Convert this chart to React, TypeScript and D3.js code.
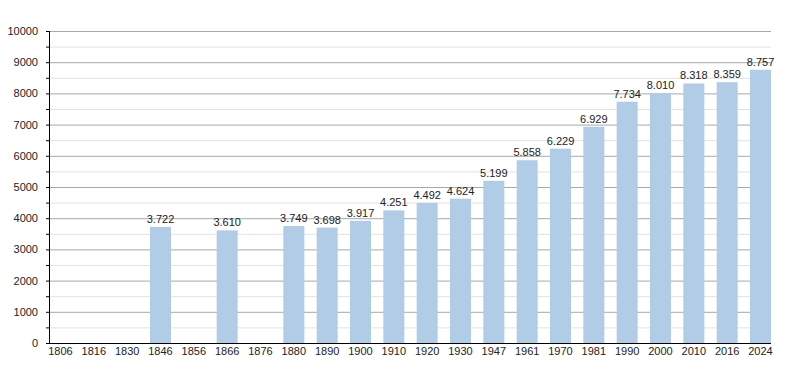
import React from "react";
import * as d3 from "d3";

const width = 800;
const height = 373;
const margin = { top: 31, right: 29, bottom: 30, left: 50 };

const years = [
  "1806", "1816", "1830", "1846", "1856", "1866", "1876", "1880", "1890", "1900", "1910",
  "1920", "1930", "1947", "1961", "1970", "1981", "1990", "2000", "2010", "2016", "2024",
];
const population: (number | null)[] = [
  null, null, null, 3722, null, 3610, null, 3749, 3698, 3917, 4251,
  4492, 4624, 5199, 5858, 6229, 6929, 7734, 8010, 8318, 8359, 8757,
];
const majorTicks = [0, 1000, 2000, 3000, 4000, 5000, 6000, 7000, 8000, 9000, 10000];
const minorTicks = [500, 1500, 2500, 3500, 4500, 5500, 6500, 7500, 8500, 9500];

const font = "'Liberation Sans', Arial, sans-serif";
const fmt = (v: number) => d3.format(",")(v).replace(/,/g, ".");

const App = () => {
  const x0 = margin.left;
  const x1 = width - margin.right;
  const yBottom = height - margin.bottom - 0;

  const scaleX = d3.scaleBand<string>().domain(years).range([x0, x1]).paddingInner(0.37).paddingOuter(0).align(0);
  const scaleY = d3.scaleLinear().domain([0, 10000]).range([343, margin.top]);

  return (
    <svg width={width} height={height} style={{ position: "absolute", left: 0, top: 0, background: "#fff" }}>
      {minorTicks.map((t) => (
        <g key={"m" + t}>
          <line x1={x0} x2={x1} y1={scaleY(t) + 0.5} y2={scaleY(t) + 0.5} stroke="#e2e2e2" />
          <line x1={x0 - 4} x2={x0} y1={scaleY(t) + 0.5} y2={scaleY(t) + 0.5} stroke="#000" />
        </g>
      ))}
      {majorTicks.map((t) => (
        <g key={"M" + t}>
          <line x1={x0} x2={x1} y1={scaleY(t) + 0.5} y2={scaleY(t) + 0.5} stroke="#a8a8a8" />
          <line x1={x0 - 4} x2={x0} y1={scaleY(t) + 0.5} y2={scaleY(t) + 0.5} stroke="#000" />
          <text
            x={x0 - 12}
            y={scaleY(t) + 4}
            textAnchor="end"
            fontFamily={font}
            fontSize={11}
            fill="#222"
          >
            {t}
          </text>
        </g>
      ))}
      {years.map((yr, i) => {
        const v = population[i];
        const bx = scaleX(yr) as number;
        const bw = scaleX.bandwidth();
        return (
          <g key={yr}>
            {v !== null && (
              <>
                <rect x={bx} y={scaleY(v)} width={bw} height={scaleY(0) - scaleY(v)} fill="#b0cce6" />
                <text
                  x={bx + bw / 2}
                  y={scaleY(v) - 4}
                  textAnchor="middle"
                  fontFamily={font}
                  fontSize={11}
                  fill="#222"
                >
                  {fmt(v)}
                </text>
              </>
            )}
            <text
              x={bx + bw / 2}
              y={355}
              textAnchor="middle"
              fontFamily={font}
              fontSize={11}
              fill="#222"
            >
              {yr}
            </text>
          </g>
        );
      })}
      <line x1={x0 - 0.5} x2={x0 - 0.5} y1={margin.top} y2={yBottom + 0.5} stroke="#000" />
      <line x1={x0 - 1} x2={x1} y1={343.5} y2={343.5} stroke="#000" />
    </svg>
  );
};

export default App;
